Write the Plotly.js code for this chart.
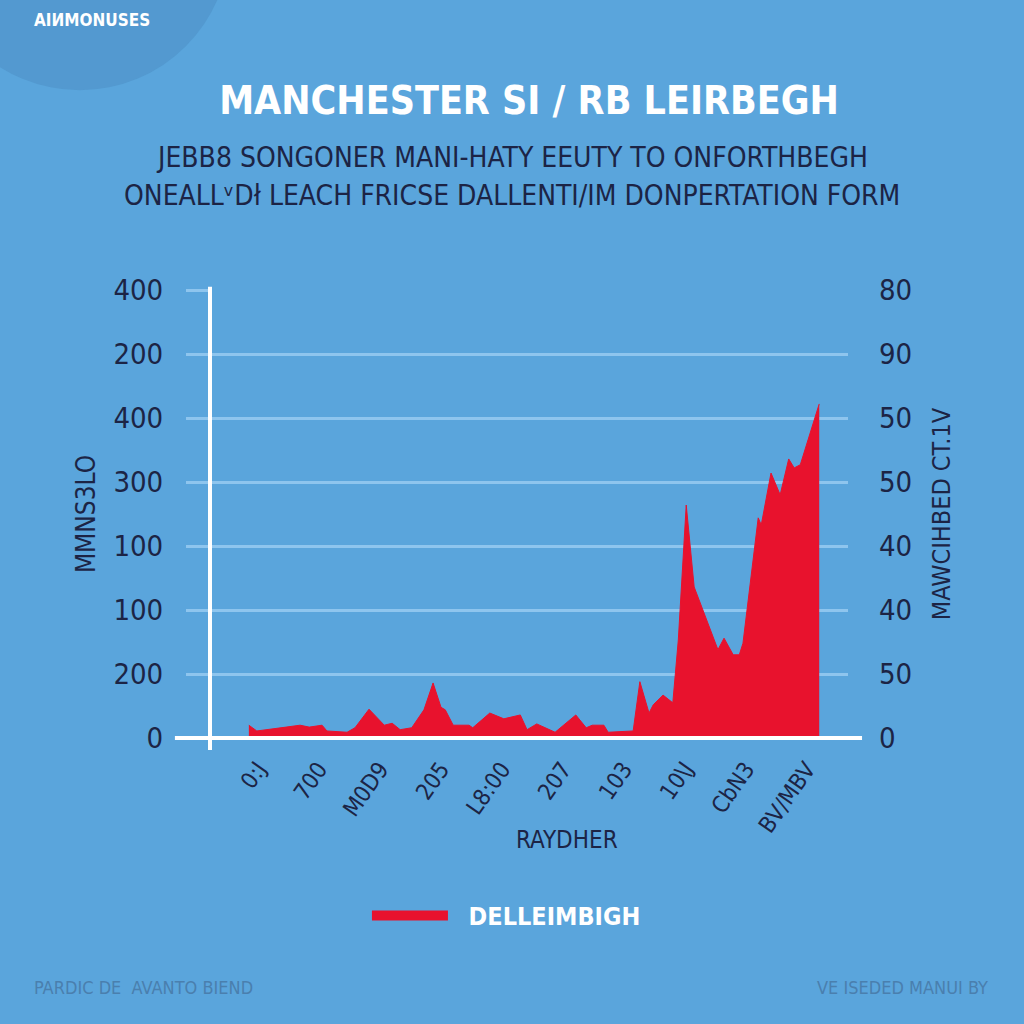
<!DOCTYPE html>
<html>
<head>
<meta charset="utf-8">
<script src="https://cdn.plot.ly/plotly-3.0.1.min.js"></script>
<style>html,body{margin:0;padding:0;background:#5aa5dc;}#chart{width:1024px;height:1024px;}</style>
</head>
<body>
<div id="chart"></div>
<script>
// ---- data ----
const xTickVals = [0, 1, 2, 3, 4, 5, 6, 7, 8, 9];
const xTickText = ["0:J", "700", "M0D9", "205", "L8:00", "207", "103", "10\\J", "CbN3", "BV/MBV"];
const yTickVals = [0, 1, 2, 3, 4, 5, 6, 7];
const yLeftText = ["0", "200", "100", "100", "300", "400", "200", "400"];
const yRightText = ["0", "50", "40", "40", "50", "50", "90", "80"];
const seriesName = "DELLEIMBIGH";
const xs = [-0.15, -0.02, 0.46, 0.69, 0.84, 1.05, 1.13, 1.46, 1.59, 1.82, 2.07, 2.20, 2.33, 2.52, 2.72, 2.87, 3.00, 3.07, 3.20, 3.46, 3.52, 3.80, 4.03, 4.30, 4.41, 4.57, 4.87, 5.21, 5.38, 5.48, 5.67, 5.74, 6.15, 6.26, 6.41, 6.48, 6.64, 6.80, 6.89, 7.02, 7.15, 7.54, 7.64, 7.79, 7.89, 7.95, 8.20, 8.25, 8.41, 8.56, 8.70, 8.79, 8.89, 9.20];
const ys = [0.20, 0.11, 0.17, 0.20, 0.17, 0.20, 0.11, 0.09, 0.16, 0.45, 0.20, 0.23, 0.13, 0.16, 0.44, 0.86, 0.48, 0.44, 0.20, 0.20, 0.16, 0.39, 0.30, 0.36, 0.13, 0.22, 0.09, 0.36, 0.16, 0.20, 0.20, 0.09, 0.11, 0.88, 0.39, 0.52, 0.67, 0.55, 1.53, 3.64, 2.36, 1.38, 1.56, 1.30, 1.30, 1.48, 3.44, 3.33, 4.14, 3.80, 4.36, 4.22, 4.27, 5.22];

const titleText = "MANCHESTER SI / RB LEIRBEGH";
const subLine1 = "JEBB8 SONGONER MANI-HATY EEUTY TO ONFORTHBEGH";
const subLine2 = "ONEALLᵛDł LEACH FRICSE DALLENTI/IM DONPERTATION FORM";
const xTitle = "RAYDHER";
const yLeftTitle = "MMNS3LO";
const yRightTitle = "MAWCIHBED CT.1V";
const cornerText = "AIИMONUSES";
const footLeft = "PARDIC DE  AVANTO BIEND";
const footRight = "VE ISEDED MANUI BY";

// ---- style ----
const BG = "#5aa5dc";
const RED = "#e8122d";
const NAVY = "#1c2445";
const GRID = "#8ec5ee";
const NARROW = "DejaVu Sans Condensed, Liberation Sans Narrow, sans-serif";
const COND = "DejaVu Sans Condensed, Liberation Sans Narrow, sans-serif";

const traces = [
  {
    type: "scatter", mode: "lines", x: xs, y: ys, fill: "tozeroy",
    fillcolor: RED, line: {color: RED, width: 1, shape: "linear"},
    showlegend: false, hoverinfo: "skip"
  },
  {
    type: "scatter", mode: "lines", x: [null], y: [null], yaxis: "y2",
    name: "\u00a0\u00a0" + seriesName, line: {color: RED, width: 14}, showlegend: true
  }
];

const layout = {
  width: 1024, height: 1024,
  paper_bgcolor: BG, plot_bgcolor: "rgba(0,0,0,0)",
  margin: {l: 210, r: 176, t: 290, b: 286},
  title: {
    text: "<b>" + titleText + "</b>",
    font: {family: NARROW, size: 39, color: "#ffffff"},
    x: 0.5, xanchor: "center", xref: "paper",
    y: 0.902, yanchor: "middle", yref: "container"
  },
  xaxis: {
    range: [-0.787, 9.672], tickmode: "array", tickvals: xTickVals, ticktext: xTickText,
    tickangle: -55, showgrid: false, zeroline: false, showline: false, ticks: "",
    ticklabelstandoff: 12, tickfont: {family: COND, size: 23, color: NAVY}
  },
  yaxis: {
    range: [0, 7], tickmode: "array", tickvals: yTickVals, ticktext: yLeftText,
    showgrid: true, gridcolor: GRID, gridwidth: 3, zeroline: false, showline: false,
    ticks: "outside", ticklen: 23, tickwidth: 3, tickcolor: GRID, ticklabelstandoff: 17,
    tickfont: {family: COND, size: 29, color: NAVY},
    title: {text: yLeftTitle, standoff: 10, font: {family: COND, size: 26, color: NAVY}}
  },
  yaxis2: {
    range: [0, 7], overlaying: "y", side: "right", tickmode: "array",
    tickvals: yTickVals, ticktext: yRightText, showgrid: false, zeroline: false,
    showline: false, ticks: "", ticklabelstandoff: 30,
    tickfont: {family: COND, size: 29, color: NAVY},
    title: {text: yRightTitle, standoff: 21, font: {family: COND, size: 25, color: NAVY}}
  },
  showlegend: true,
  legend: {
    orientation: "h", x: 0.246, xanchor: "left", y: -0.397, yanchor: "middle",
    bgcolor: "rgba(0,0,0,0)", itemwidth: 76,
    font: {family: NARROW, size: 25, color: "#ffffff", weight: "bold"}
  },
  shapes: [
    {type: "circle", xref: "paper", yref: "paper", x0: -0.439, x1: 0.031, y0: 1.446, y1: 2.116,
     fillcolor: "#4b8ec3", opacity: 0.5, line: {width: 0}, layer: "below"},
    {type: "line", xref: "paper", yref: "paper", x0: -0.055, x1: 1.022, y0: 0, y1: 0,
     line: {color: "#ffffff", width: 4}},
    {type: "line", xref: "paper", yref: "paper", x0: 0, x1: 0, y0: -0.027, y1: 1.007,
     line: {color: "#ffffff", width: 4}}
  ],
  annotations: [
    {text: subLine1, xref: "paper", yref: "paper", x: 0.473, y: 1.295, xanchor: "center", yanchor: "middle",
     showarrow: false, font: {family: NARROW, size: 28, color: NAVY}},
    {text: subLine2, xref: "paper", yref: "paper", x: 0.473, y: 1.212, xanchor: "center", yanchor: "middle",
     showarrow: false, font: {family: NARROW, size: 28, color: NAVY}},
    {text: xTitle, xref: "paper", yref: "paper", x: 0.5596, y: -0.228, xanchor: "center", yanchor: "middle",
     showarrow: false, font: {family: NARROW, size: 24, color: NAVY}},
    {text: "<b>" + cornerText + "</b>", xref: "paper", yref: "paper", x: -0.279, y: 1.603, xanchor: "left", yanchor: "middle",
     showarrow: false, font: {family: NARROW, size: 17, color: "#ffffff"}},
    {text: footLeft, xref: "paper", yref: "paper", x: -0.279, y: -0.558, xanchor: "left", yanchor: "middle",
     showarrow: false, font: {family: NARROW, size: 18, color: "#4a7fae"}},
    {text: footRight, xref: "paper", yref: "paper", x: 1.2226, y: -0.558, xanchor: "right", yanchor: "middle",
     showarrow: false, font: {family: NARROW, size: 18, color: "#4a7fae"}}
  ]
};

Plotly.newPlot("chart", traces, layout, {displayModeBar: false, staticPlot: true});
</script>
</body>
</html>
